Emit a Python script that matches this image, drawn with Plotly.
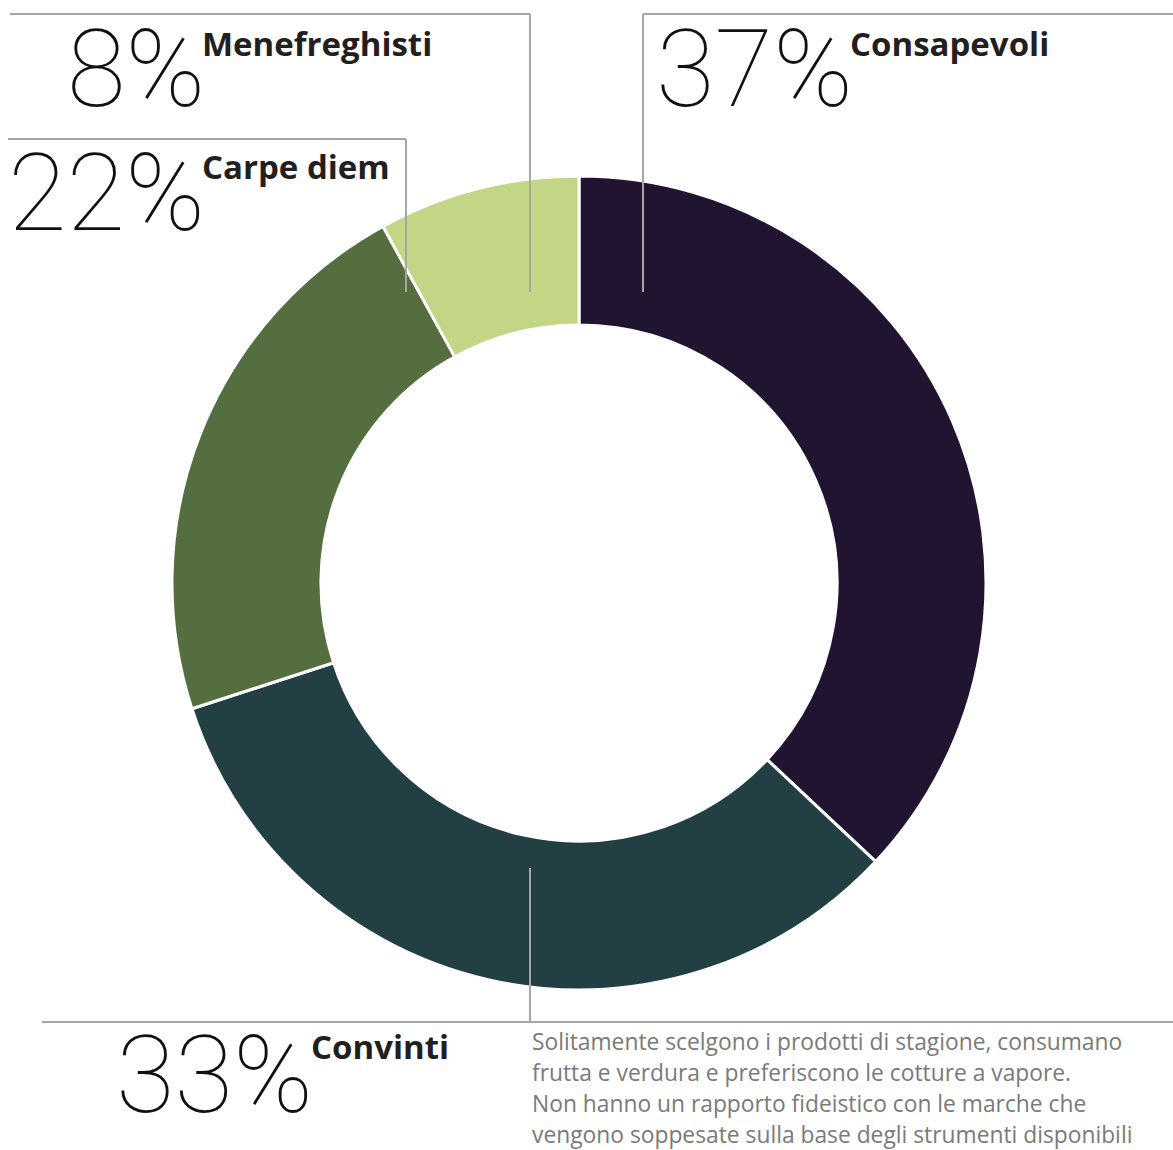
import plotly.graph_objects as go

# Segment data
segments = ["Consapevoli", "Convinti", "Carpe diem", "Menefreghisti"]
shares = [37, 33, 22, 8]
colors = ["#211430", "#223f44", "#556e40", "#c2d686"]

description = [
    "Solitamente scelgono i prodotti di stagione, consumano",
    "frutta e verdura e preferiscono le cotture a vapore.",
    "Non hanno un rapporto fideistico con le marche che",
    "vengono soppesate sulla base degli strumenti disponibili",
]

W, H = 1173, 1150


def fx(x):
    return x / W


def fy(y):
    return 1 - y / H


cx, cy, r = 579, 583, 407

fig = go.Figure(
    go.Pie(
        labels=segments,
        values=shares,
        hole=0.634,
        sort=False,
        direction="clockwise",
        rotation=0,
        marker=dict(colors=colors, line=dict(color="white", width=3)),
        textinfo="none",
        hoverinfo="label+percent",
        domain=dict(x=[fx(cx - r), fx(cx + r)], y=[fy(cy + r), fy(cy - r)]),
        showlegend=False,
    )
)

line_col = "#a6a6a6"
# Leader lines as polylines in pixel positions
leaders = [
    [(10, 14), (530, 14), (530, 292)],      # Menefreghisti
    [(8, 139), (406, 139), (406, 292)],     # Carpe diem
    [(1173, 14), (643, 14), (643, 292)],    # Consapevoli
    [(42, 1022), (1173, 1022)],             # Convinti baseline
    [(530, 868), (530, 1022)],              # Convinti drop
]
shapes = []
for pts in leaders:
    for (x0, y0), (x1, y1) in zip(pts[:-1], pts[1:]):
        shapes.append(dict(type="line", xref="paper", yref="paper",
                           x0=fx(x0), y0=fy(y0), x1=fx(x1), y1=fy(y1),
                           line=dict(color=line_col, width=2)))

big_font = dict(family="Roboto", size=107, color="#111111", weight=100)
name_font = dict(family="Open Sans", size=33, color="#231f20", weight=700)

# (percent text, right edge, digit mid-y, name, name x, name mid-y)
callouts = [
    ("8%", 207, 70, "Menefreghisti", 200, 43),
    ("22%", 207, 193, "Carpe diem", 200, 166),
    ("37%", 855, 70, "Consapevoli", 848, 43),
    ("33%", 315, 1075, "Convinti", 309, 1046),
]
annotations = []
for pct, xr, ym, name, nx, ny in callouts:
    annotations.append(dict(text=pct, x=fx(xr), y=fy(ym), xref="paper", yref="paper",
                            xanchor="right", yanchor="middle", showarrow=False,
                            font=big_font))
    annotations.append(dict(text=name, x=fx(nx), y=fy(ny), xref="paper", yref="paper",
                            xanchor="left", yanchor="middle", showarrow=False,
                            font=name_font))

# Description block, one annotation per line for even spacing
for i, line in enumerate(description):
    annotations.append(dict(text=line, x=fx(530), y=fy(1041 + 31 * i),
                            xref="paper", yref="paper", xanchor="left", yanchor="middle",
                            align="left", showarrow=False,
                            font=dict(family="Open Sans", size=22.8, color="#7a7a7a")))

fig.update_layout(
    width=W, height=H,
    margin=dict(l=0, r=0, t=0, b=0),
    paper_bgcolor="white", plot_bgcolor="white",
    shapes=shapes, annotations=annotations,
)

fig.write_html("out.html")
